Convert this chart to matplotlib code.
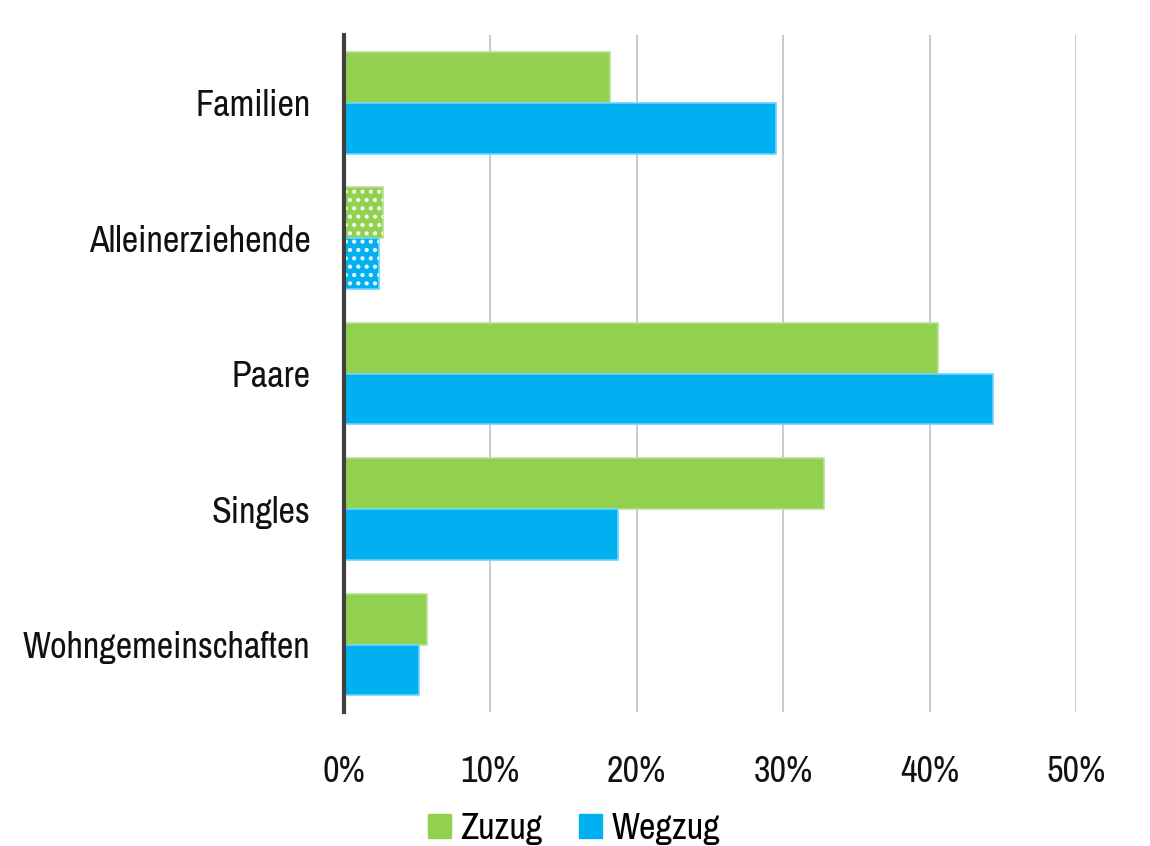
import numpy as np
import matplotlib.pyplot as plt
from matplotlib.patches import Patch
from matplotlib.ticker import FuncFormatter

plt.rcParams['font.family'] = ['Archivo Narrow', 'Liberation Sans', 'DejaVu Sans']

kategorien = ['Familien', 'Alleinerziehende', 'Paare', 'Singles', 'Wohngemeinschaften']
zuzug = [18.2, 2.7, 40.6, 32.8, 5.7]
wegzug = [29.5, 2.4, 44.3, 18.7, 5.1]
gepunktet = [False, True, False, False, False]

gruen = '#92D050'
blau = '#00B0F0'

fig = plt.figure(figsize=(11.5, 8.46), dpi=100)
ax = fig.add_axes([0.299, 0.158, 0.6367, 0.8006])

y = np.arange(len(kategorien))
h = 0.375
ax.barh(y - h/2, zuzug, height=h, color=gruen, edgecolor='#b8e290', linewidth=1.2, zorder=3)
ax.barh(y + h/2, wegzug, height=h, color=blau, edgecolor='#6fd3f7', linewidth=1.2, zorder=3)

# Punktmuster fuer Alleinerziehende
plt.rcParams['hatch.linewidth'] = 1.8
for i, p in enumerate(gepunktet):
    if p:
        ax.barh(y[i] - h/2, zuzug[i], height=h, fill=False, hatch='..', edgecolor='#f4fbee', linewidth=0, zorder=4)
        ax.barh(y[i] + h/2, wegzug[i], height=h, fill=False, hatch='..', edgecolor='#eefaff', linewidth=0, zorder=4)

ax.set_xlim(0, 50)
ax.set_ylim(len(kategorien) - 0.5, -0.5)
ax.set_xticks(np.arange(0, 51, 10))
ax.xaxis.set_major_formatter(FuncFormatter(lambda v, p: '{:.0f}%'.format(v)))
ax.set_yticks(y)
ax.set_yticklabels(kategorien)
ax.tick_params(axis='both', length=0, labelsize=26, labelcolor='#111111')
ax.tick_params(axis='x', pad=31)
ax.tick_params(axis='y', pad=24)
ax.grid(axis='x', color='#c0c0c0', linewidth=1.2, zorder=0)
for s in ['top', 'right', 'bottom']:
    ax.spines[s].set_visible(False)
ax.spines['left'].set_color('#404040')
ax.spines['left'].set_linewidth(3)
ax.spines['left'].set_zorder(5)

handles = [Patch(color=gruen, label='Zuzug'), Patch(color=blau, label='Wegzug')]
fig.legend(handles=handles, loc='center', bbox_to_anchor=(0.499, 0.021), ncol=2, frameon=False,
           fontsize=26, handlelength=0.65, handleheight=0.65, handletextpad=0.25, columnspacing=1.0)

fig.savefig('out.png', dpi=100)
